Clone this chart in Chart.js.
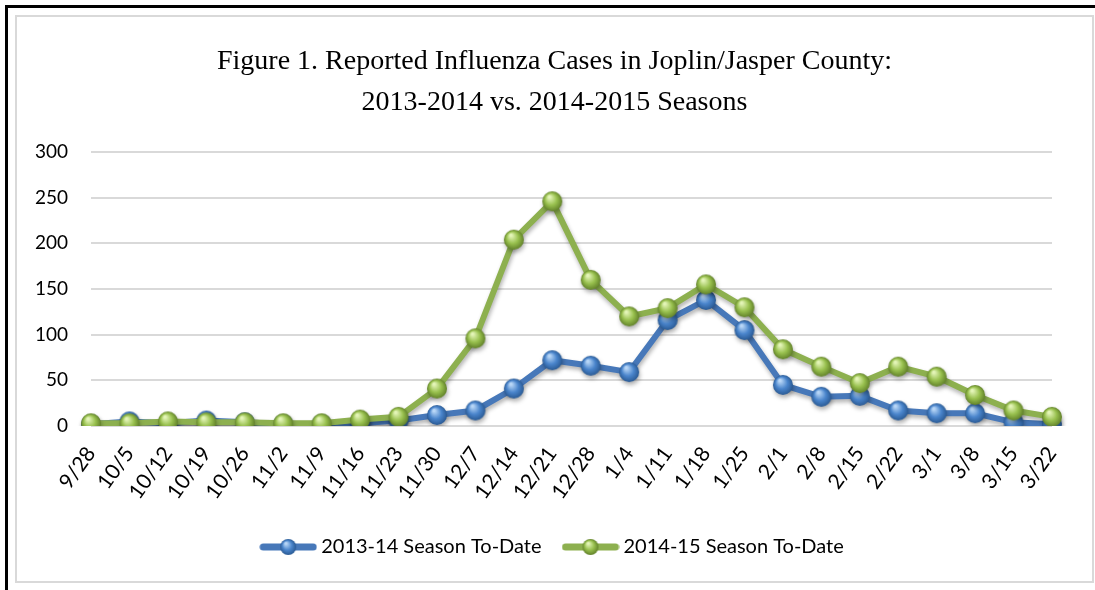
<!DOCTYPE html>
<html>
<head>
<meta charset="utf-8">
<script src="https://cdn.jsdelivr.net/npm/chart.js@4.4.1/dist/chart.umd.min.js"></script>
<style>
	body { margin: 0; background: #fff; }
	#outer { position: absolute; left: 5px; top: 5px; width: 1100px; height: 600px; border-top: 3px solid #000; border-left: 3px solid #000; }
	#frame { position: absolute; left: 15px; top: 15px; width: 1075px; height: 564px; border: 2px solid #d9d9d9; }
	#box { position: absolute; left: 0; top: 0; width: 1075px; height: 564px; }
</style>
</head>
<body>
<div id="outer"></div>
<div id="frame">
	<div id="box"><canvas id="myChart"></canvas></div>
</div>
<script>
/* 資料 */
var weeks = ['9/28', '10/5', '10/12', '10/19', '10/26', '11/2', '11/9', '11/16', '11/23', '11/30', '12/7', '12/14', '12/21',
	'12/28', '1/4', '1/11', '1/18', '1/25', '2/1', '2/8', '2/15', '2/22', '3/1', '3/8', '3/15', '3/22'];
var season1314 = [2, 5, 3, 6, 4, 2, 2, 3, 6, 12, 17, 41, 72, 66, 59, 116, 138, 105, 45, 32, 33, 17, 14, 14, 4, 2];
var season1415 = [3, 3, 5, 4, 4, 3, 3, 7, 10, 41, 96, 204, 246, 160, 120, 129, 155, 130, 84, 65, 47, 65, 54, 34, 17, 10];
var yTicks = [0, 50, 100, 150, 200, 250, 300];
var seriesNames = ['2013-14 Season To-Date', '2014-15 Season To-Date'];
var titleLines = ['Figure 1. Reported Influenza Cases in Joplin/Jasper County:', '2013-2014 vs. 2014-2015 Seasons'];

// 立體球 marker
function makeBall(base, light, dark, r) {
	var c = document.createElement('canvas');
	c.width = r * 2 + 4;
	c.height = r * 2 + 4;
	var g = c.getContext('2d');
	var cx = c.width / 2, cy = c.height / 2;
	var grad = g.createRadialGradient(cx - r * 0.3, cy - r * 0.45, r * 0.1, cx, cy, r);
	grad.addColorStop(0, light);
	grad.addColorStop(0.55, base);
	grad.addColorStop(1, dark);
	g.fillStyle = grad;
	g.beginPath();
	g.arc(cx, cy, r, 0, Math.PI * 2);
	g.fill();
	return c;
}

// 圖例用: 線 + 球
function makeLegendIcon(lineColor, ball) {
	var c = document.createElement('canvas');
	c.width = 58;
	c.height = 22;
	var g = c.getContext('2d');
	g.strokeStyle = lineColor;
	g.lineWidth = 7;
	g.lineCap = 'round';
	g.beginPath();
	g.moveTo(4, 11);
	g.lineTo(54, 11);
	g.stroke();
	g.drawImage(ball, 29 - ball.width / 2, 11 - ball.height / 2);
	return c;
}

var blueLine = '#4778b9';
var greenLine = '#8db04f';
var blueBall = makeBall('#4a85cc', '#b9d7f7', '#2a5a94', 10);
var greenBall = makeBall('#98c04e', '#e4f5b8', '#62822a', 10);
var blueLegendBall = makeBall('#4a85cc', '#b9d7f7', '#2a5a94', 8);
var greenLegendBall = makeBall('#98c04e', '#e4f5b8', '#62822a', 8);
var legendIcons = [makeLegendIcon(blueLine, blueLegendBall), makeLegendIcon(greenLine, greenLegendBall)];

// 線的陰影
var shadowPlugin = {
	id: 'lineShadow',
	beforeDatasetsDraw: function(chart) {
		var ctx = chart.ctx;
		ctx.save();
		ctx.shadowColor = 'rgba(0,0,0,0.3)';
		ctx.shadowBlur = 4;
		ctx.shadowOffsetX = 1;
		ctx.shadowOffsetY = 3;
	},
	afterDatasetsDraw: function(chart) {
		chart.ctx.restore();
	}
};

var ctx = document.getElementById('myChart');
var myChart = new Chart(ctx, {
	type: 'line',
	data: {
		labels: weeks,
		datasets: [{
			label: seriesNames[0],
			data: season1314,
			borderColor: blueLine,
			borderWidth: 6,
			pointStyle: blueBall,
			pointRadius: 10,
			order: 2
		}, {
			label: seriesNames[1],
			data: season1415,
			borderColor: greenLine,
			borderWidth: 6,
			pointStyle: greenBall,
			pointRadius: 10,
			order: 1
		}]
	},
	options: {
		responsive: true,
		maintainAspectRatio: false,
		animation: false,
		layout: {
			padding: { left: 0, right: 0, top: 0, bottom: 14 }
		},
		plugins: {
			tooltip: { enabled: false },
			title: {
				display: true,
				text: titleLines,
				color: '#000',
				font: { family: 'Liberation Serif', size: 28, weight: 'normal', lineHeight: 1.464 },
				padding: { top: 24, bottom: 29 }
			},
			legend: {
				position: 'bottom',
				labels: {
					color: '#000',
					font: { family: 'Lato', size: 20 },
					usePointStyle: true,
					pointStyleWidth: 46,
					padding: 26,
					generateLabels: function(chart) {
						return chart.data.datasets.map(function(ds, i) {
							return {
								text: ds.label,
								pointStyle: legendIcons[i],
								fontColor: '#000',
								lineWidth: 0,
								datasetIndex: i
							};
						});
					}
				}
			}
		},
		scales: {
			x: {
				offset: false,
				grid: { display: false },
				border: { display: false },
				ticks: {
					color: '#000',
					font: { family: 'Lato', size: 21 },
					maxRotation: 54,
					minRotation: 54,
					autoSkip: false,
					padding: 8
				},
				afterFit: function(scale) {
					scale.height = 85;
				}
			},
			y: {
				min: 0,
				max: 300,
				grid: { color: '#d9d9d9', lineWidth: 2, drawTicks: false },
				border: { display: false },
				afterBuildTicks: function(scale) {
					scale.ticks = yTicks.map(function(v) { return { value: v }; });
				},
				ticks: {
					color: '#000',
					font: { family: 'Lato', size: 19 },
					padding: 23
				},
				afterFit: function(scale) {
					scale.width = 74;
				}
			},
			// 右邊留白用
			yRight: {
				position: 'right',
				display: true,
				grid: { display: false },
				border: { display: false },
				ticks: { display: false },
				afterFit: function(scale) {
					scale.width = 40;
				}
			}
		}
	},
	plugins: [shadowPlugin]
});
</script>
</body>
</html>
